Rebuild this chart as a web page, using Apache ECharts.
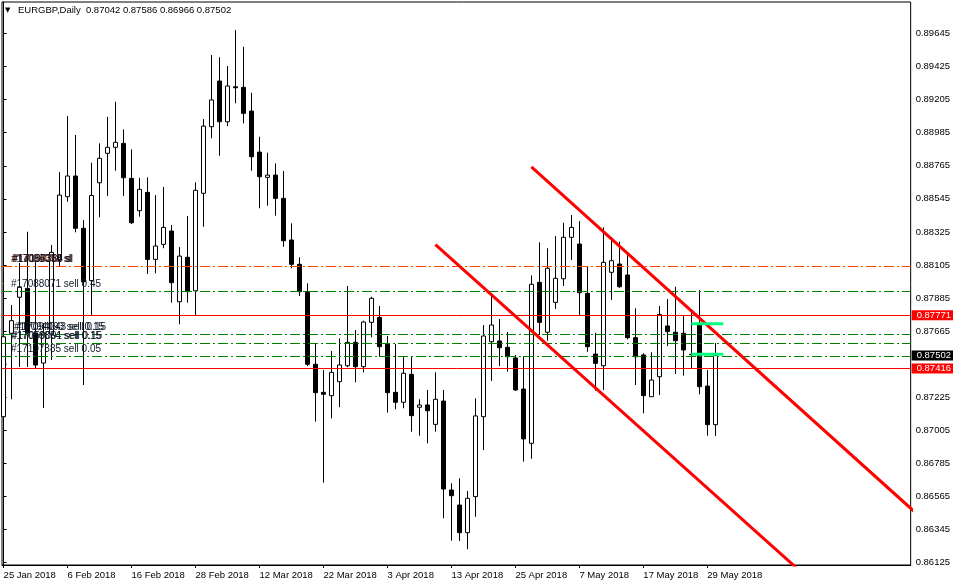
<!DOCTYPE html>
<html><head><meta charset="utf-8">
<script src="https://cdn.jsdelivr.net/npm/echarts@6/dist/echarts.min.js"></script>
<style>html,body{margin:0;padding:0;background:#fff}#c{width:953px;height:586px}</style>
</head><body><div id="c"></div>
<script>
const symbolName = 'EURGBP';
const periodName = 'Daily';
const dates = ['25 Jan 2018','26 Jan 2018','29 Jan 2018','30 Jan 2018','31 Jan 2018','1 Feb 2018','2 Feb 2018','5 Feb 2018','6 Feb 2018','7 Feb 2018','8 Feb 2018','9 Feb 2018','12 Feb 2018','13 Feb 2018','14 Feb 2018','15 Feb 2018','16 Feb 2018','19 Feb 2018','20 Feb 2018','21 Feb 2018','22 Feb 2018','23 Feb 2018','26 Feb 2018','27 Feb 2018','28 Feb 2018','1 Mar 2018','2 Mar 2018','5 Mar 2018','6 Mar 2018','7 Mar 2018','8 Mar 2018','9 Mar 2018','12 Mar 2018','13 Mar 2018','14 Mar 2018','15 Mar 2018','16 Mar 2018','19 Mar 2018','20 Mar 2018','21 Mar 2018','22 Mar 2018','23 Mar 2018','26 Mar 2018','27 Mar 2018','28 Mar 2018','29 Mar 2018','30 Mar 2018','2 Apr 2018','3 Apr 2018','4 Apr 2018','5 Apr 2018','6 Apr 2018','9 Apr 2018','10 Apr 2018','11 Apr 2018','12 Apr 2018','13 Apr 2018','16 Apr 2018','17 Apr 2018','18 Apr 2018','19 Apr 2018','20 Apr 2018','23 Apr 2018','24 Apr 2018','25 Apr 2018','26 Apr 2018','27 Apr 2018','30 Apr 2018','1 May 2018','2 May 2018','3 May 2018','4 May 2018','7 May 2018','8 May 2018','9 May 2018','10 May 2018','11 May 2018','14 May 2018','15 May 2018','16 May 2018','17 May 2018','18 May 2018','21 May 2018','22 May 2018','23 May 2018','24 May 2018','25 May 2018','28 May 2018','29 May 2018','30 May 2018'];
const opens = [0.87095,0.87650,0.87890,0.87949,0.87652,0.87452,0.87645,0.88138,0.88559,0.88697,0.88349,0.88001,0.88652,0.88848,0.88888,0.88914,0.88681,0.88466,0.88588,0.88142,0.88242,0.88331,0.87860,0.88156,0.87933,0.88582,0.89025,0.89329,0.89058,0.89291,0.89287,0.89129,0.88856,0.88688,0.88703,0.88548,0.88271,0.88109,0.87927,0.87444,0.87257,0.87235,0.87328,0.87434,0.87590,0.87428,0.87723,0.87756,0.87577,0.87257,0.87191,0.87377,0.87158,0.87173,0.87044,0.87199,0.86607,0.86507,0.86323,0.86563,0.87095,0.87594,0.87599,0.87557,0.87486,0.87279,0.86918,0.87989,0.87657,0.87856,0.88013,0.88289,0.88244,0.87916,0.87512,0.87434,0.88056,0.88111,0.88038,0.87621,0.87506,0.87228,0.87361,0.87699,0.87657,0.87650,0.87510,0.87717,0.87299,0.87042];
const closes = [0.87627,0.87734,0.87956,0.87652,0.87439,0.87652,0.88189,0.88570,0.88697,0.88349,0.87993,0.88567,0.88815,0.88888,0.88921,0.88685,0.88386,0.88608,0.88142,0.88231,0.88355,0.87987,0.88164,0.87927,0.88602,0.89029,0.89203,0.89058,0.89296,0.89284,0.89114,0.88825,0.88692,0.88703,0.88548,0.88266,0.88109,0.87927,0.87444,0.87255,0.87244,0.87390,0.87439,0.87590,0.87428,0.87725,0.87883,0.87561,0.87255,0.87191,0.87384,0.87102,0.87173,0.87135,0.87211,0.86614,0.86569,0.86323,0.86552,0.87100,0.87632,0.87705,0.87554,0.87494,0.87273,0.86947,0.87976,0.87723,0.88083,0.88016,0.88289,0.88355,0.87920,0.87561,0.87450,0.88122,0.88133,0.87960,0.87621,0.87494,0.87235,0.87339,0.87776,0.87661,0.87601,0.87539,0.87508,0.87295,0.87042,0.87502];
const lows = [0.86860,0.87211,0.87426,0.87426,0.87419,0.87153,0.87472,0.88098,0.88526,0.88322,0.87306,0.87772,0.88422,0.88564,0.88732,0.88564,0.88377,0.88426,0.88045,0.88049,0.88216,0.87854,0.87710,0.87854,0.87772,0.88359,0.88948,0.88832,0.89029,0.89181,0.89047,0.88732,0.88482,0.88499,0.88433,0.88226,0.88083,0.87898,0.87432,0.87062,0.86656,0.87084,0.87158,0.87424,0.87324,0.87390,0.87623,0.87494,0.87122,0.87144,0.87151,0.86995,0.86969,0.86918,0.86995,0.86419,0.86270,0.86268,0.86213,0.86429,0.86873,0.87333,0.87432,0.87394,0.87266,0.86796,0.86815,0.87639,0.87601,0.87812,0.87965,0.88138,0.87772,0.87527,0.87268,0.87273,0.87872,0.87953,0.87610,0.87306,0.87118,0.87228,0.87239,0.87565,0.87379,0.87368,0.87412,0.87244,0.86969,0.86966];
const highs = [0.87852,0.87838,0.88118,0.88326,0.88124,0.87718,0.88238,0.88723,0.89096,0.88970,0.88404,0.88785,0.88914,0.89091,0.89191,0.89007,0.88874,0.88685,0.88688,0.88570,0.88624,0.88371,0.88224,0.88431,0.88655,0.89076,0.89502,0.89487,0.89429,0.89668,0.89557,0.89251,0.88958,0.88852,0.88781,0.88730,0.88382,0.88156,0.87983,0.87579,0.87406,0.87532,0.87617,0.87965,0.87672,0.87734,0.87894,0.87832,0.87632,0.87579,0.87494,0.87494,0.87211,0.87273,0.87390,0.87273,0.86652,0.86685,0.86601,0.87217,0.87705,0.87905,0.87745,0.87659,0.87506,0.87497,0.88035,0.88256,0.88216,0.88297,0.88386,0.88437,0.88397,0.88093,0.87654,0.88355,0.88291,0.88260,0.88171,0.87816,0.87517,0.87524,0.87832,0.87878,0.87960,0.87765,0.87794,0.87938,0.87406,0.87586];

const priceTicks = [0.86125,0.86345,0.86565,0.86785,0.87005,0.87225,0.87445,0.87665,0.87885,0.88105,0.88325,0.88545,0.88765,0.88985,0.89205,0.89425,0.89645];
const priceLabels = [0.86125,0.86345,0.86565,0.86785,0.87005,0.87225,0.87665,0.87885,0.88105,0.88325,0.88545,0.88765,0.88985,0.89205,0.89425,0.89645];
const dateTickIdx = [0,8,16,24,32,40,48,56,64,72,80,88];

// order levels
const slLevel = 0.88095;
const slLabels = ['#17088071 sl','#17094093 sl','#17056354 sl','#17107385 sl'];
const sellLevels = [0.87928, 0.87642, 0.87642, 0.87582, 0.87582, 0.87496];
const sellLabels = ['#17088071 sell 0.45','#17094093 sell 0.15','#17094043 sell 0.15','#17056354 sell 0.15','#17059091 sell 0.15','#17107385 sell 0.05'];
const sellLabelShift = [9, 12, 14, 9, 10, 9];
const redLevels = [0.87771, 0.87416];
const bidLevel = 0.87502;

// channel trendlines [bar index, price]
const upperChannel = [[66, 0.88757], [114, 0.86458]];
const lowerChannel = [[54, 0.88240], [100, 0.86048]];
// short green marks
const markA = [[86, 0.87714], [90, 0.87714]];
const markB = [[86, 0.87510], [90, 0.87510]];

const FONT = '"Liberation Sans", Arial, sans-serif';
const FS = 9.5;
const LFS = 10;
const TXT = '#101828';
const candleData = dates.map((d, i) => [i, opens[i], closes[i], lows[i], highs[i]]);
const last = dates.length - 1;
const titleText = symbolName + ',' + periodName + '  ' + opens[last].toFixed(5) + ' ' + highs[last].toFixed(5) + ' ' + lows[last].toFixed(5) + ' ' + closes[last].toFixed(5);

const dashDot = [10, 3, 2, 3];

const slData = slLabels.map((t, k) => ({
  yAxis: slLevel,
  label: {show: true, position: 'insideStartTop', distance: [9 + k * 0.6, 2], formatter: t, color: k === 1 ? '#c04010' : TXT, fontSize: LFS, fontFamily: FONT}
}));
const sellData = sellLevels.map((v, k) => ({
  yAxis: v,
  label: {show: true, position: 'insideStartTop', distance: [sellLabelShift[k], 2], formatter: sellLabels[k], color: TXT, fontSize: LFS, fontFamily: FONT}
}));
const boxLabel = (bg) => ({show: true, position: 'end', distance: 1, color: '#fff', backgroundColor: bg, padding: [0, 8, 0, 5], lineHeight: 10, fontSize: FS, fontFamily: FONT, formatter: p => p.value.toFixed(5)});
const redData = redLevels.map(v => ({yAxis: v}));
const bidData = [{yAxis: bidLevel}];

function levelSeries(data, color, type, label, hideLine) {
  return {
    type: 'line', data: markB, symbol: 'none', z: 3, silent: true,
    lineStyle: {width: 0, color: 'rgba(0,0,0,0)'}, itemStyle: {color: color},
    markLine: {
      silent: true, symbol: ['none', 'none'], animation: false, precision: 5, z: 3,
      lineStyle: {color: hideLine ? 'rgba(0,0,0,0)' : color, type: type, width: 1, opacity: 1},
      label: label || {show: true},
      emphasis: {disabled: true},
      data: data
    }
  };
}

const chart = echarts.init(document.getElementById('c'), null, {renderer: 'canvas'});
chart.setOption({
  animation: false,
  backgroundColor: '#fff',
  grid: {left: 2, right: 42, top: 2, bottom: 21, show: true, borderColor: '#000', borderWidth: 1, backgroundColor: '#fff'},
  graphic: [
    {type: 'text', left: 5, top: 7, style: {text: '\u25BC', font: '7px "DejaVu Sans"', fill: '#000'}},
    {type: 'text', left: 18, top: 5, style: {text: titleText, font: FS + 'px ' + FONT, fill: '#000'}}
  ],
  xAxis: {
    type: 'value', min: -0.2, max: 113.425,
    axisLine: {show: true, lineStyle: {color: '#000'}},
    axisTick: {show: true, customValues: dateTickIdx, length: 3, lineStyle: {color: '#000'}},
    axisLabel: {show: true, customValues: dateTickIdx, formatter: v => dates[Math.round(v)] || '', align: 'left', color: '#000', fontSize: FS, fontFamily: FONT, margin: 5},
    splitLine: {show: false}
  },
  yAxis: {
    type: 'value', position: 'right', min: 0.86108, max: 0.89855,
    axisLine: {show: true, lineStyle: {color: '#000'}},
    axisTick: {show: true, customValues: priceTicks, length: 3, lineStyle: {color: '#000'}},
    axisLabel: {show: true, customValues: priceLabels, formatter: v => v.toFixed(5), color: '#000', fontSize: FS, fontFamily: FONT, margin: 5},
    splitLine: {show: false}
  },
  series: [
    {
      type: 'candlestick', data: candleData, barWidth: 4, z: 2,
      encode: {x: 0, y: [1, 2, 3, 4]},
      itemStyle: {color: '#fff', color0: '#000', borderColor: '#000', borderColor0: '#000', borderColorDoji: '#000', borderWidth: 1}
    },
    levelSeries(slData, '#FF4500', dashDot),
    levelSeries(sellData, '#008000', dashDot),
    levelSeries(redData, '#FF0000', 'solid', boxLabel('#FF0000')),
    levelSeries(bidData, '#000000', 'solid', boxLabel('#000000'), true),
    {type: 'line', data: upperChannel, symbol: 'none', clip: true, z: 6, lineStyle: {color: '#FF0000', width: 3}},
    {type: 'line', data: lowerChannel, symbol: 'none', clip: true, z: 6, lineStyle: {color: '#FF0000', width: 3}},
    {type: 'line', data: markA, symbol: 'none', clip: true, z: 7, lineStyle: {color: '#00FF80', width: 3}},
    {type: 'line', data: markB, symbol: 'none', clip: true, z: 7, lineStyle: {color: '#00FF80', width: 3}}
  ]
});
</script></body></html>
